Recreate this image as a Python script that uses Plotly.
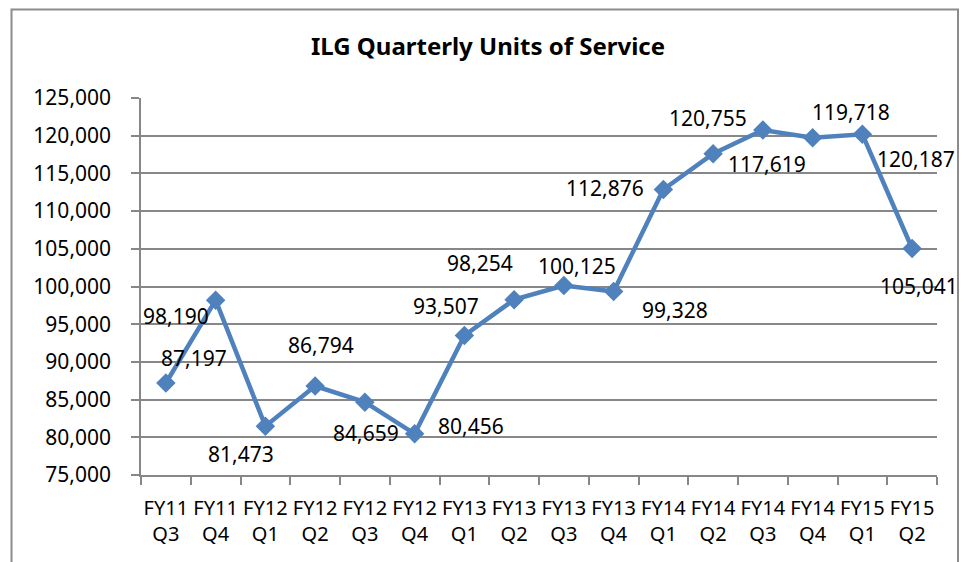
import plotly.graph_objects as go

categories = ["FY11<br>Q3", "FY11<br>Q4", "FY12<br>Q1", "FY12<br>Q2", "FY12<br>Q3", "FY12<br>Q4",
              "FY13<br>Q1", "FY13<br>Q2", "FY13<br>Q3", "FY13<br>Q4", "FY14<br>Q1", "FY14<br>Q2",
              "FY14<br>Q3", "FY14<br>Q4", "FY15<br>Q1", "FY15<br>Q2"]
units = [87197, 98190, 81473, 86794, 84659, 80456, 93507, 98254,
         100125, 99328, 112876, 117619, 120755, 119718, 120187, 105041]
y_ticks = [75000, 80000, 85000, 90000, 95000, 100000, 105000, 110000, 115000, 120000, 125000]

# label offsets in pixels (dx right, dy down) relative to each point, as placed in the original
label_dx = [28, -40, -24, 6, 1, 56, -18, -34, 13, 61, -58, 54, -55, 38, 54, 7]
label_dy = [-25, 16, 28, -41, 31, -8, -29, -37, -20, 18, -1, 10, -12, -26, 25, 38]

FONT = "Noto Sans"
BLUE = "#4F81BD"
GRAY = "#878787"

OFF = 8  # page body margin
W, H = 968 - OFF, 562 - OFF
ML, MR, MT = 141 - OFF, 968 - 937, 98 - OFF
MB = H - (475 - OFF)
pw = W - ML - MR
ph = H - MT - MB


def px_x(p):
    return (p - OFF - ML) / pw


def px_y(p):
    return (H - MB - (p - OFF)) / ph


fig = go.Figure()
fig.add_trace(go.Scatter(
    x=categories, y=units, mode="lines+markers",
    line=dict(color=BLUE, width=4.5),
    marker=dict(symbol="diamond", size=15, color=BLUE),
    hoverinfo="skip", showlegend=False,
))

for c, v, dx, dy in zip(categories, units, label_dx, label_dy):
    fig.add_annotation(x=c, y=v, text=f"{v:,}", showarrow=False,
                       xshift=dx, yshift=-dy,
                       font=dict(family=FONT, size=21, color="black"))

fig.add_shape(type="rect", xref="paper", yref="paper",
              x0=px_x(11.5), x1=px_x(958), y0=px_y(620), y1=px_y(9.5),
              line=dict(color="#8C8C8C", width=2), layer="below")

fig.update_layout(
    width=W, height=H,
    margin=dict(l=ML, r=MR, t=MT, b=MB, autoexpand=False),
    paper_bgcolor="white", plot_bgcolor="white",
    title=dict(text="<b>ILG Quarterly Units of Service</b>", x=(488 - OFF) / W, xanchor="center",
               xref="container", y=1 - (47 - OFF) / H, yanchor="middle", yref="container",
               font=dict(family=FONT, size=24, color="black")),
    font=dict(family=FONT, color="black"),
)
fig.update_xaxes(
    type="category", range=[-0.5, len(categories) - 0.5], tickangle=0, automargin=False,
    tickson="boundaries", ticks="outside", ticklen=8, tickcolor=GRAY, tickwidth=1.5,
    showline=True, linecolor=GRAY, linewidth=1.5, showgrid=False,
    tickfont=dict(family=FONT, size=20, color="black"), ticklabelstandoff=14,
)
fig.update_yaxes(
    range=[y_ticks[0], y_ticks[-1]], tickvals=y_ticks, tickformat=",", automargin=False,
    ticks="outside", ticklen=8, tickcolor=GRAY, tickwidth=1.5,
    showline=True, linecolor=GRAY, linewidth=1.5,
    showgrid=True, gridcolor=GRAY, gridwidth=1.5, zeroline=False,
    tickfont=dict(family=FONT, size=21, color="black"), ticklabelstandoff=16,
)

fig.write_html("out.html")
